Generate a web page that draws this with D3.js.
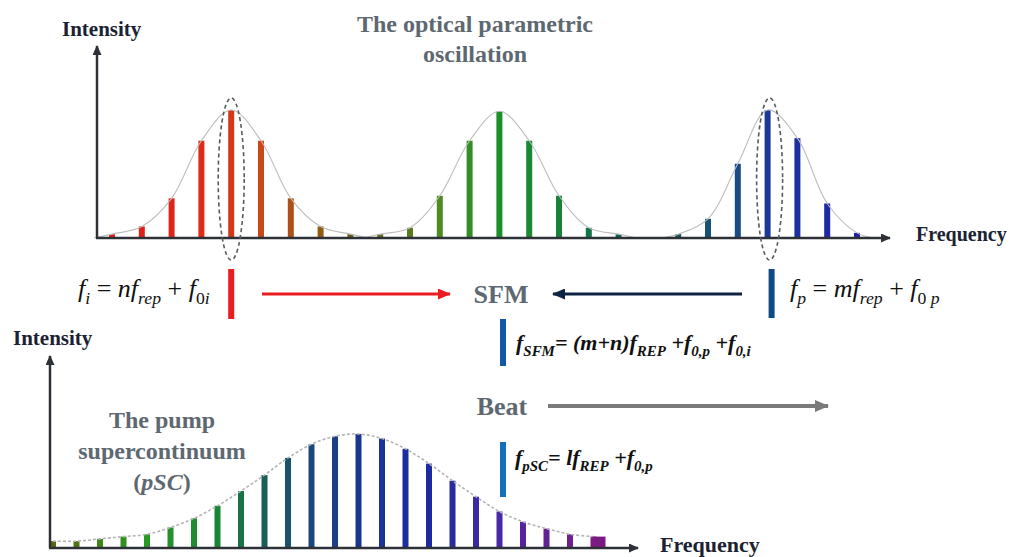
<!DOCTYPE html>
<html>
<head>
<meta charset="utf-8">
<script src="https://cdn.jsdelivr.net/npm/d3@7"></script>
<style>
  body { margin: 0; background: #fff; }
  svg { display: block; }
  text { white-space: pre; }
</style>
</head>
<body>
<svg id="chart" width="1014" height="557"></svg>
<script>
// comb modes (index along the frequency axis) and their relative intensity
const idlerModes = [0, 1, 2, 3, 4, 5, 6, 7, 8]
const idlerLevels = [0.03, 0.09, 0.31, 0.76, 1.0, 0.76, 0.31, 0.09, 0.03]
const signalModes = [9, 10, 11, 12, 13, 14, 15, 16, 17]
const signalLevels = [0.03, 0.08, 0.33, 0.76, 0.99, 0.76, 0.33, 0.08, 0.03]
const pumpModes = [19, 20, 21, 22, 23, 24, 25]
const pumpLevels = [0.03, 0.15, 0.58, 1.0, 0.78, 0.27, 0.04]

const pscModes = [0, 1, 2, 3, 4, 5, 6, 7, 8, 9, 10, 11, 12, 13, 14, 15, 16, 17, 18, 19, 20, 21, 22, 23]
const pscLevels = [0.06, 0.06, 0.08, 0.10, 0.12, 0.18, 0.26, 0.37, 0.50, 0.64, 0.79, 0.91,
                   0.98, 1.0, 0.96, 0.87, 0.74, 0.59, 0.45, 0.32, 0.23, 0.17, 0.12, 0.10]

// picked-out lines (idler mode n, pump mode m)
const pickedModes = [4, 22]

// texts
const titleLines = ["The optical parametric", "oscillation"]
const pscLines = ["The pump", "supercontinuum"]

const svg = d3.select("#chart")
const serif = "'Liberation Serif', 'Times New Roman', serif"
const gray = "#5d6870"

// scales
const x_top = d3.scaleLinear().domain([0, 25]).range([112, 857])
const y_top = d3.scaleLinear().domain([0, 1]).range([238, 110])
const x_bot = d3.scaleLinear().domain([0, 23]).range([53, 593.5])
const y_bot = d3.scaleLinear().domain([0, 1]).range([548, 434])

const color_top = d3.scaleLinear()
  .domain([0, 3, 5, 7, 8, 9, 11, 13, 15, 17, 19, 21, 22, 25])
  .range(["#e01c1c", "#de2a16", "#c8481a", "#935a14", "#6e5a10", "#666a15", "#4e8a22",
          "#1c8f2a", "#17823a", "#0f6456", "#155a5c", "#1a4a86", "#1b3899", "#1f22a8"])
const color_bot = d3.scaleLinear()
  .domain([0, 2, 4, 7, 9, 11, 13, 16, 19, 23])
  .range(["#5a6510", "#3f8416", "#279a24", "#188536", "#1a5e56", "#1a477c", "#1a3691",
          "#1c2aa2", "#4a27a6", "#7c1a84"])

// markers
const defs = svg.append("defs")
function marker(id, color, len, wid) {
  defs.append("marker")
    .attr("id", id).attr("markerUnits", "userSpaceOnUse")
    .attr("viewBox", `0 0 ${len} ${wid}`)
    .attr("refX", len - 1).attr("refY", wid / 2)
    .attr("markerWidth", len).attr("markerHeight", wid)
    .attr("orient", "auto")
    .append("path").attr("d", `M0,0L${len},${wid / 2}L0,${wid}Z`).attr("fill", color)
}
marker("ax", "#2d3036", 10, 9)
marker("red", "#ea1c20", 13, 11)
marker("navy", "#0e2244", 13, 11)
marker("grey", "#7a7a7a", 14, 12)

// axes
function axis(x0, y0, x1, y1) {
  svg.append("line")
    .attr("x1", x0).attr("y1", y0).attr("x2", x1).attr("y2", y1)
    .attr("stroke", "#2d3036").attr("stroke-width", 2.5)
    .attr("marker-end", "url(#ax)")
}

// comb bars + envelope
function comb(modes, levels, x, y, color, dashed) {
  const g = svg.append("g")
  const pts = modes.map((m, i) => [x(m), y(levels[i])])
  const env = dashed ? pts : [[x(modes[0] - 0.6), y(0)], ...pts, [x(modes[modes.length - 1] + 0.6), y(0)]]
  g.selectAll("rect")
    .data(modes).enter()
    .append("rect")
    .attr("x", d => x(d) - 3)
    .attr("y", (d, i) => y(levels[i]))
    .attr("width", 6)
    .attr("height", (d, i) => y(0) - y(levels[i]))
    .attr("fill", d => color(d))
  g.append("path")
    .attr("d", d3.line().curve(d3.curveCatmullRom)(env))
    .attr("fill", "none")
    .attr("stroke", dashed ? "#b5b5b5" : "#bdbdbd")
    .attr("stroke-width", dashed ? 1.6 : 1.1)
    .attr("stroke-dasharray", dashed ? "3,2" : null)
}

comb(idlerModes, idlerLevels, x_top, y_top, color_top, false)
comb(signalModes, signalLevels, x_top, y_top, color_top, false)
comb(pumpModes, pumpLevels, x_top, y_top, color_top, false)

// last pSC line is drawn wider in the figure
comb(pscModes, pscLevels, x_bot, y_bot, color_bot, true)
svg.append("rect")
  .attr("x", x_bot(23) - 1).attr("y", y_bot(pscLevels[23]))
  .attr("width", 13).attr("height", y_bot(0) - y_bot(pscLevels[23]))
  .attr("fill", color_bot(23))

axis(97, 238, 97, 46)
axis(96, 238, 890, 238)
axis(50, 548, 50, 356)
axis(49, 548, 638, 548)

// dashed ellipses around the picked lines
svg.selectAll("ellipse")
  .data(pickedModes).enter()
  .append("ellipse")
  .attr("cx", d => x_top(d) + (d > 10 ? 2 : 0))
  .attr("cy", 179).attr("rx", 13).attr("ry", 81)
  .attr("fill", "none").attr("stroke", "#555b60")
  .attr("stroke-width", 1.6).attr("stroke-dasharray", "4,3")

// axis labels
function label(txt, x, y, size, color, anchor) {
  return svg.append("text").attr("x", x).attr("y", y)
    .attr("font-family", serif).attr("font-weight", "bold")
    .attr("font-size", size).attr("fill", color)
    .attr("text-anchor", anchor || "start").text(txt)
}
label("Intensity", 62, 36, 21, "#1a2233")
label("Intensity", 13, 345, 21, "#1a2233")
label("Frequency", 916, 241, 20, "#1a2233")
label("Frequency", 660, 552, 22, "#1a2233")

titleLines.forEach((t, i) => label(t, 475, 32 + i * 30, 24, gray, "middle"))
pscLines.forEach((t, i) => label(t, 162, 428 + i * 31, 24, gray, "middle"))
const psc = label("(", 162, 490, 24, gray, "middle")
psc.append("tspan").attr("font-style", "italic").text("pSC")
psc.append("tspan").text(")")

label("SFM", 501, 303, 26, gray, "middle")
label("Beat", 502, 415, 26, gray, "middle")

// selected line markers + arrows
const vbar = (x, y0, y1, color) => svg.append("rect")
  .attr("x", x - 3).attr("y", y0).attr("width", 6).attr("height", y1 - y0).attr("fill", color)
vbar(x_top(pickedModes[0]), 269, 319, "#ea1c20")
vbar(x_top(pickedModes[1]) + 4, 269, 318, "#0f4a86")
vbar(503, 319, 366, "#1357a8")
vbar(503, 442, 497, "#1470bf")

const arrow = (x0, x1, y, color, w, m) => svg.append("line")
  .attr("x1", x0).attr("x2", x1).attr("y1", y).attr("y2", y)
  .attr("stroke", color).attr("stroke-width", w).attr("marker-end", `url(#${m})`)
arrow(262, 450, 294, "#ea1c20", 3, "red")
arrow(742, 553, 294, "#0e2244", 3, "navy")
arrow(548, 828, 406, "#7a7a7a", 4, "grey")

// formulas with subscripts: style flags i = italic, s = subscript
function formula(x, y, size, bold, color, parts) {
  const t = svg.append("text").attr("x", x).attr("y", y)
    .attr("font-family", serif).attr("font-size", size)
    .attr("font-weight", bold ? "bold" : "normal").attr("fill", color)
  let low = false
  parts.forEach(([txt, st]) => {
    const sub = st.includes("s")
    const ts = t.append("tspan").text(txt)
      .attr("font-style", st.includes("i") ? "italic" : "normal")
      .attr("font-size", sub ? size * 0.68 : size)
    if (sub !== low) { ts.attr("dy", sub ? size * 0.27 : -size * 0.27); low = sub }
  })
}

formula(78, 297, 26, false, "#111", [
  ["f", "i"], ["i", "is"], [" = ", ""], ["n", "i"], ["f", "i"], ["rep", "is"],
  [" + ", ""], ["f", "i"], ["0", "s"], ["i", "is"]])
formula(790, 297, 26, false, "#111", [
  ["f", "i"], ["p", "is"], [" = ", ""], ["m", "i"], ["f", "i"], ["rep", "is"],
  [" + ", ""], ["f", "i"], ["0", "s"], [" p", "is"]])
formula(516, 350, 22, true, "#111", [
  ["f", "i"], ["SFM", "is"], ["= (m+n)", "i"], ["f", "i"], ["REP", "is"],
  [" +", "i"], ["f", "i"], ["0,p", "is"], [" +", "i"], ["f", "i"], ["0,i", "is"]])
formula(515, 465, 22, true, "#111", [
  ["f", "i"], ["pSC", "is"], ["= l", "i"], ["f", "i"], ["REP", "is"],
  [" +", "i"], ["f", "i"], ["0,p", "is"]])
</script>
</body>
</html>
